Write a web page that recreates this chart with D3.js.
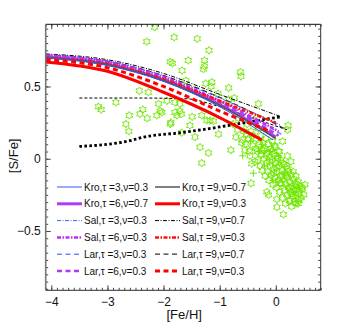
<!DOCTYPE html>
<html>
<head>
<meta charset="utf-8">
<script src="https://cdn.jsdelivr.net/npm/d3@7"></script>
<style>
  body { margin: 0; background: #fff; }
  svg { display: block; font-family: "Liberation Sans", Arial, sans-serif; }
</style>
</head>
<body>
<div id="chart"></div>
<script>
//------------------------------------------------------
// data
//------------------------------------------------------
var modelNames = [
    "Kro,τ =3,ν=0.3", "Kro,τ =6,ν=0.7", "Sal,τ =3,ν=0.3",
    "Sal,τ =6,ν=0.3", "Lar,τ =3,ν=0.3", "Lar,τ =6,ν=0.3",
    "Kro,τ =9,ν=0.7", "Kro,τ =9,ν=0.3", "Sal,τ =9,ν=0.7",
    "Sal,τ =9,ν=0.3", "Lar,τ =9,ν=0.7", "Lar,τ =9,ν=0.3"
]
var modelFeH = [
    [-4.1, -3, -2, -1, -0.05],
    [-4.1, -3, -2, -1, 0.0],
    [-4.1, -3, -2, -1, 0.1],
    [-4.1, -3, -2, -1, 0.05],
    [-4.1, -3, -2, -1, 0.1],
    [-4.1, -3, -2, -1, 0.05],
    [-4.1, -3, -2, -1, 0.0],
    [-4.1, -3, -2, -1, -0.25],
    [-4.1, -3, -2, -1, 0.1],
    [-4.1, -3, -2, -1, 0.0],
    [-4.1, -3, -2, -1, 0.2],
    [-4.1, -3, -2, -1, -0.1]
]
var modelSFe = [
    [0.70, 0.645, 0.535, 0.36, 0.13],
    [0.705, 0.655, 0.545, 0.375, 0.15],
    [0.72, 0.675, 0.575, 0.42, 0.23],
    [0.715, 0.67, 0.565, 0.40, 0.19],
    [0.715, 0.665, 0.56, 0.395, 0.17],
    [0.71, 0.66, 0.55, 0.385, 0.16],
    [0.70, 0.65, 0.54, 0.37, 0.14],
    [0.67, 0.605, 0.46, 0.285, 0.13],
    [0.725, 0.685, 0.59, 0.445, 0.29],
    [0.70, 0.655, 0.55, 0.40, 0.25],
    [0.72, 0.675, 0.575, 0.425, 0.20],
    [0.685, 0.63, 0.50, 0.33, 0.19]
]

// two black reference curves
var dottedFeH = [-3.5, -2.6, -2.35, -1.7, -1.0, -0.4, 0.1]
var dottedSFe = [0.085, 0.125, 0.15, 0.18, 0.22, 0.26, 0.29]
var dashedFeH = [-3.5, -2.5, -1.6, -1.0, -0.4, 0.2]
var dashedSFe = [0.42, 0.42, 0.415, 0.36, 0.28, 0.20]

// observed stars: halo / thick disc part
var starFeH = [
    -2.16, -2.30, -1.81, -1.40, -1.19, -1.84, -1.56, -1.88, -1.27, -1.29, -1.27, -1.67,
    -0.63, -0.62, -1.60, -1.25, -1.14, -1.15, -0.84, -1.03, -0.84, -0.74, -0.31, -1.80,
    -1.71, -2.43, -2.27, -3.16, -3.11, -2.85, -2.61, -2.67, -2.62, -2.42, -2.37, -2.29,
    -2.12, -2.09, -2.06, -2.03, -1.94, -1.87, -1.80, -1.76, -1.71, -1.68, -1.49, -1.32,
    -1.23, -1.17, -1.11, -1.53, -1.88, -1.68, -1.44, -1.02, -1.35, -1.20, -1.32, -0.80,
    -0.43, -0.44, -0.16, -0.13, 0.02, 0.135, 0.255, 0.415, 0.207, 0.064, 0.018, 0.463,
    0.40, 0.22, 0.21, 0.12,
    // disc cluster
    -0.76, -0.71, -0.66, -0.61, -0.57, -0.55, -0.51, -0.49, -0.46, -0.44, -0.41, -0.39,
    -0.37, -0.35, -0.33, -0.31, -0.29, -0.28,
    -0.27, -0.26, -0.245, -0.23, -0.215, -0.20, -0.19, -0.18, -0.165, -0.15, -0.14, -0.13,
    -0.12, -0.105, -0.10, -0.09, -0.08, -0.065, -0.06, -0.05, -0.04, -0.03, -0.02, -0.01,
    0.00, 0.012, 0.02, 0.03, 0.045, 0.05, 0.06, 0.07, 0.085, 0.09,
    0.10, 0.112, 0.12, 0.13, 0.14, 0.155, 0.16, 0.17, 0.18, 0.195, 0.20, 0.21, 0.225, 0.23,
    0.24, 0.25, 0.262, 0.27, 0.28, 0.29, 0.30, 0.315, 0.32, 0.33, 0.345, 0.35, 0.36, 0.38,
    0.39, 0.40, 0.42, 0.43, 0.45, 0.47, 0.50, 0.52,
    -0.52, -0.22, -0.02, 0.08, 0.27, 0.36,
    -0.68, -0.59, -0.54, -0.47, -0.42, -0.36, -0.32, -0.25, -0.17, -0.11, -0.07, -0.035,
    0.015, 0.04, 0.075, 0.11, 0.15, 0.185, 0.215, 0.245, 0.285, 0.31, 0.34, 0.375, 0.41
]
var starSFe = [
    0.91, 0.81, 0.84, 0.83, 0.75, 0.66, 0.68, 0.67, 0.68, 0.62, 0.64, 0.61,
    0.60, 0.57, 0.54, 0.52, 0.53, 0.50, 0.49, 0.45, 0.41, 0.42, 0.38, 0.39,
    0.38, 0.47, 0.46, 0.36, 0.34, 0.39, 0.30, 0.24, 0.19, 0.31, 0.34, 0.28,
    0.30, 0.38, 0.33, 0.32, 0.40, 0.25, 0.32, 0.30, 0.33, 0.31, 0.29, 0.30,
    0.265, 0.265, 0.26, 0.23, 0.24, 0.18, 0.15, 0.17, 0.08, 0.04, -0.03, 0.06,
    -0.035, -0.17, -0.23, -0.25, -0.335, -0.385, -0.29, -0.29, 0.02, 0.05, -0.28, -0.20,
    -0.31, 0.23, 0.20, 0.12,
    0.24, 0.15, 0.28, 0.11, 0.19, 0.06, 0.24, 0.14, 0.02, 0.19, 0.09, 0.27,
    -0.02, 0.14, 0.05, 0.21, 0.10, -0.05,
    0.16, 0.03, -0.08, 0.11, 0.00, 0.07, -0.12, 0.14, -0.03, 0.04, -0.09, 0.10,
    -0.15, 0.01, -0.05, 0.07, -0.11, -0.01, 0.12, -0.18, -0.07, 0.03, -0.13, 0.08,
    -0.03, -0.20, -0.09, 0.01, -0.15, 0.05, -0.05, -0.23, -0.12, -0.01,
    -0.17, -0.08, -0.27, -0.03, -0.14, -0.22, -0.10, -0.31, -0.18, -0.05, -0.25, -0.13, -0.20, -0.09,
    -0.29, -0.16, -0.23, -0.11, -0.33, -0.19, -0.26, -0.14, -0.22, -0.30, -0.17, -0.25, -0.12, -0.21,
    -0.28, -0.16, -0.24, -0.19, -0.27, -0.21, -0.25, -0.18,
    0.17, 0.06, 0.09, -0.17, -0.02, -0.31,
    0.20, 0.13, 0.10, 0.05, 0.16, 0.07, -0.01, 0.06, 0.02, -0.02, 0.05, -0.10,
    -0.06, 0.00, -0.17, -0.12, -0.04, -0.12, -0.07, -0.20, -0.24, -0.09, -0.22, -0.18, -0.22
]
var crossFeH = [-0.59, -0.40, -0.20, -0.10, -0.30, 0.05, -0.05, 0.15, -0.45, -0.25]
var crossSFe = [0.02, -0.10, -0.05, 0.05, 0.05, 0.02, -0.15, -0.10, 0.12, 0.10]

var xTicks = [-4, -3, -2, -1, 0]
var yTicks = [-0.5, 0, 0.5]

//------------------------------------------------------
// styles
//------------------------------------------------------
var styles = [
    { color: "#3355ff", width: 1, dash: null },
    { color: "#b23cf5", width: 3, dash: null },
    { color: "#3366ff", width: 1, dash: "4,1.5,1,1.5" },
    { color: "#c428ff", width: 2.5, dash: "4,1.5,1.5,1.5" },
    { color: "#6f8cff", width: 1.5, dash: "5,3.5" },
    { color: "#b634ee", width: 2.5, dash: "5,3.5" },
    { color: "#555555", width: 1.5, dash: null },
    { color: "#ff0000", width: 3, dash: null },
    { color: "#000000", width: 1, dash: "4,1.5,1,1.5" },
    { color: "#ff1010", width: 2.5, dash: "4,1.5,1.5,1.5" },
    { color: "#333333", width: 1.2, dash: "5,3.5" },
    { color: "#ff0000", width: 3, dash: "5,3.5" }
]
var green = "#6ee600"

var W = 354, H = 327
var pLeft = 45.7, pRight = 320.7, pTop = 24.3, pBottom = 290.3

var x = d3.scaleLinear().domain([-4.1, 0.8]).range([pLeft, pRight])
var y = d3.scaleLinear().domain([-0.91, 0.93]).range([pBottom, pTop])

var svg = d3.select("#chart").append("svg")
    .attr("width", W).attr("height", H)

svg.append("clipPath").attr("id", "plotclip")
    .append("rect")
    .attr("x", pLeft).attr("y", pTop)
    .attr("width", pRight - pLeft).attr("height", pBottom - pTop)

var plot = svg.append("g").attr("clip-path", "url(#plotclip)")

//------------------------------------------------------
// scatter
//------------------------------------------------------
function hexStar(r) {
    var pts = []
    for (var k = 0; k < 12; k++) {
        var a = -Math.PI / 2 + k * Math.PI / 6
        var rr = k % 2 === 0 ? r : r * 0.58
        pts.push([rr * Math.cos(a), rr * Math.sin(a)])
    }
    return "M" + pts.map(p => p[0].toFixed(2) + "," + p[1].toFixed(2)).join("L") + "Z"
}

plot.selectAll(".star")
    .data(starFeH.map((v, i) => [v, starSFe[i]]))
    .enter().append("path")
    .attr("class", "star")
    .attr("d", hexStar(3.9))
    .attr("transform", d => "translate(" + x(d[0]) + "," + y(d[1]) + ")")
    .style("fill", "none")
    .style("stroke", green)
    .style("stroke-width", 0.9)

plot.selectAll(".cross")
    .data(crossFeH.map((v, i) => [v, crossSFe[i]]))
    .enter().append("path")
    .attr("class", "cross")
    .attr("d", "M-3.5,0H3.5M0,-3.5V3.5")
    .attr("transform", d => "translate(" + x(d[0]) + "," + y(d[1]) + ")")
    .style("stroke", green)
    .style("stroke-width", 1)

//------------------------------------------------------
// curves
//------------------------------------------------------
var line = d3.line()
    .x(d => x(d[0]))
    .y(d => y(d[1]))
    .curve(d3.curveMonotoneX)

plot.append("path")
    .datum(dashedFeH.map((v, i) => [v, dashedSFe[i]]))
    .attr("d", line)
    .style("fill", "none").style("stroke", "#000")
    .style("stroke-width", 1).style("stroke-dasharray", "3,2")

plot.append("path")
    .datum(dottedFeH.map((v, i) => [v, dottedSFe[i]]))
    .attr("d", line)
    .style("fill", "none").style("stroke", "#000")
    .style("stroke-width", 2.8).style("stroke-dasharray", "2.6,2.4")

var order = [8, 2, 10, 4, 3, 5, 1, 9, 6, 0, 11, 7]
order.forEach(function (i) {
    var p = plot.append("path")
        .datum(modelFeH[i].map((v, j) => [v, modelSFe[i][j]]))
        .attr("d", line)
        .style("fill", "none")
        .style("stroke", styles[i].color)
        .style("stroke-width", styles[i].width)
    if (styles[i].dash) p.style("stroke-dasharray", styles[i].dash)
})

//------------------------------------------------------
// axes
//------------------------------------------------------
function styleAxis(g) {
    g.select(".domain").remove()
    g.selectAll("line").style("stroke", "#444")
    g.selectAll("text").style("font-size", "12px").style("fill", "#111")
        .style("font-family", "'Liberation Sans', Arial, sans-serif")
}
var fmt = d => d3.format("")(d).replace("-", "\u2212")

var xMinor = d3.range(-41, 9).map(d => d / 10)
var yMinor = d3.range(-18, 19).map(d => d / 20)

svg.append("g").attr("transform", "translate(0," + pBottom + ")")
    .call(d3.axisBottom(x).tickValues(xMinor).tickSize(-2.5).tickFormat(""))
    .call(styleAxis)
svg.append("g").attr("transform", "translate(0," + pBottom + ")")
    .call(d3.axisBottom(x).tickValues(xTicks).tickSize(-5).tickPadding(7).tickFormat(fmt))
    .call(styleAxis)
svg.append("g").attr("transform", "translate(0," + pTop + ")")
    .call(d3.axisTop(x).tickValues(xMinor).tickSize(-2.5).tickFormat(""))
    .call(styleAxis)
svg.append("g").attr("transform", "translate(0," + pTop + ")")
    .call(d3.axisTop(x).tickValues(xTicks).tickSize(-5).tickFormat(""))
    .call(styleAxis)

svg.append("g").attr("transform", "translate(" + pLeft + ",0)")
    .call(d3.axisLeft(y).tickValues(yMinor).tickSize(-2.5).tickFormat(""))
    .call(styleAxis)
svg.append("g").attr("transform", "translate(" + pLeft + ",0)")
    .call(d3.axisLeft(y).tickValues(yTicks).tickSize(-5).tickPadding(5).tickFormat(fmt))
    .call(styleAxis)
svg.append("g").attr("transform", "translate(" + pRight + ",0)")
    .call(d3.axisRight(y).tickValues(yMinor).tickSize(-2.5).tickFormat(""))
    .call(styleAxis)
svg.append("g").attr("transform", "translate(" + pRight + ",0)")
    .call(d3.axisRight(y).tickValues(yTicks).tickSize(-5).tickFormat(""))
    .call(styleAxis)

// frame
svg.append("line").attr("x1", pLeft).attr("x2", pRight).attr("y1", pTop).attr("y2", pTop)
    .style("stroke", "#111").style("stroke-width", 1)
svg.append("line").attr("x1", pRight).attr("x2", pRight).attr("y1", pTop).attr("y2", pBottom)
    .style("stroke", "#333").style("stroke-width", 1)
svg.append("line").attr("x1", pLeft).attr("x2", pLeft).attr("y1", pTop).attr("y2", pBottom)
    .style("stroke", "#777").style("stroke-width", 1.6)
svg.append("line").attr("x1", pLeft).attr("x2", pRight).attr("y1", pBottom).attr("y2", pBottom)
    .style("stroke", "#555").style("stroke-width", 1.3)

// axis titles
svg.append("text")
    .attr("x", (pLeft + pRight) / 2 + 1).attr("y", 319)
    .attr("text-anchor", "middle")
    .style("font-size", "13px").style("fill", "#111")
    .text("[Fe/H]")
svg.append("text")
    .attr("transform", "translate(18," + y(0.02) + ") rotate(-90)")
    .attr("text-anchor", "middle")
    .style("font-size", "13px").style("fill", "#111")
    .text("[S/Fe]")

//------------------------------------------------------
// legend
//------------------------------------------------------
var legendRowH = 16.8
modelNames.forEach(function (name, i) {
    var col = i < 6 ? 0 : 1
    var row = i % 6
    var lx = col === 0 ? 57 : 155
    var ly = 187 + row * legendRowH
    var l = svg.append("line")
        .attr("x1", lx).attr("x2", lx + 25)
        .attr("y1", ly).attr("y2", ly)
        .style("stroke", styles[i].color)
        .style("stroke-width", styles[i].width)
    if (styles[i].dash) l.style("stroke-dasharray", styles[i].dash)
    svg.append("text")
        .attr("x", lx + 27).attr("y", ly + 3.6)
        .style("font-size", "10px").style("fill", "#111")
        .text(name)
})
</script>
</body>
</html>
